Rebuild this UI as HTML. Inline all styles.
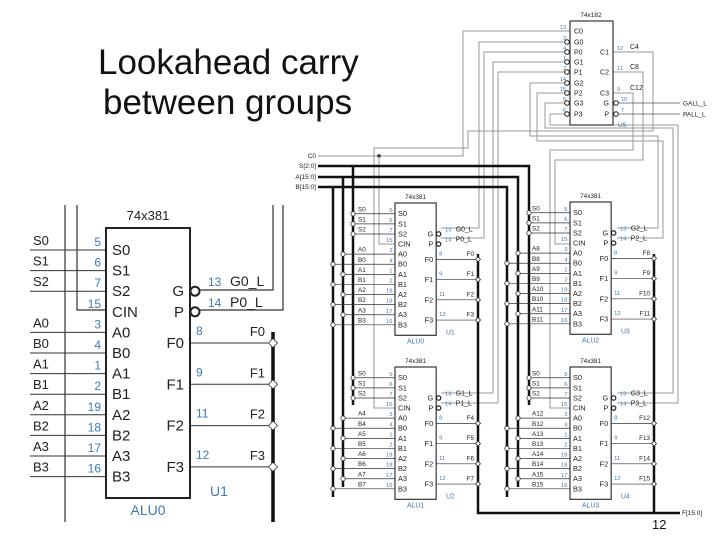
<!DOCTYPE html>
<html><head><meta charset="utf-8"><style>
html,body{margin:0;padding:0;background:#fff}
svg{display:block;font-family:"Liberation Sans",sans-serif}
</style></head><body>
<svg id="s" width="720" height="540" viewBox="0 0 720 540" xmlns="http://www.w3.org/2000/svg">
<text x="98" y="74" font-size="35" fill="#111">Lookahead carry</text>
<text x="103" y="114" font-size="35" fill="#111">between groups</text>
<text x="652" y="529" font-size="13" fill="#111">12</text>
</svg>
<script>
const S=document.getElementById('s');const NS='http://www.w3.org/2000/svg';
function el(t,a,txt){const e=document.createElementNS(NS,t);for(const k in a)e.setAttribute(k,a[k]);if(txt!==undefined)e.textContent=txt;S.appendChild(e);return e;}
function line(x1,y1,x2,y2,c,w){el('line',{x1,y1,x2,y2,stroke:c||'#333','stroke-width':w||1});}
function path(d,c,w){el('path',{d,fill:'none',stroke:c||'#999','stroke-width':w||1});}
function txt(x,y,t,fs,c,anc){el('text',{x,y,'font-size':fs,fill:c||'#222','text-anchor':anc||'start'},t);}
function dot(x,y,r){el('circle',{cx:x,cy:y,r:r,fill:'#fff',stroke:'#333','stroke-width':0.8});}
function dia(x,y,r){el('path',{d:`M${x-r},${y} L${x},${y-r} L${x+r},${y} L${x},${y+r}Z`,fill:'#fff',stroke:'#333','stroke-width':0.8});}
const BLUE='#3c7bb5';
const pinsL=['S0','S1','S2','CIN','A0','B0','A1','B1','A2','B2','A3','B3'];
const nums=['5','6','7','15','3','4','1','2','19','18','17','16'];
function alu(x0,y0,s,o){
 const w=84*s,h=270*s;
 txt(x0+w/2,y0-8*s,'74x381',13*s,'#222','middle');
 for(let i=0;i<12;i++){
  const y=y0+(22+20.6*i)*s;
  txt(x0+6*s,y+5*s,pinsL[i],15*s);
  txt(x0-5*s,y-4*s,nums[i],12*s,BLUE,'end');
  if(i<3||i>=4){
   const bx=i<3?o.sx:(i%2==0?o.ax:o.bx);
   line(bx,y,x0,y,'#333',s>0.7?1:0.7);
   txt(o.lx,y-5*s,o.ext[i],13*s);
   if(o.dots)dot(bx,y,2.2);
  }
 }
 el('rect',{x:x0,y:y0,width:w,height:h,fill:'none',stroke:'#222','stroke-width':s>0.7?2:1.1});
 const gp=[['G','13',o.g],['P','14',o.p]];
 gp.forEach((q,k)=>{const y=y0+(22+20.6*(2+k))*s;
  txt(x0+w-6*s,y+5*s,q[0],15*s,'#222','end');
  el('circle',{cx:x0+w+5*s,cy:y,r:4.5*s,fill:'#fff',stroke:'#222','stroke-width':s>0.7?2:1.2});
  txt(x0+w+18*s,y-5*s,q[1],12*s,BLUE);txt(x0+w+40*s,y-5*s,q[2],14*s);
 });
 const fn=['8','9','11','12'];
 for(let k=0;k<4;k++){const y=y0+(115+41.3*k)*s;
  txt(x0+w-6*s,y+5*s,'F'+k,15*s,'#222','end');
  line(x0+w,y,o.fx,y,'#333',s>0.7?1:0.7);
  txt(x0+w+6*s,y-8*s,fn[k],12*s,BLUE);
  txt(o.fx-8*s,y-7*s,o.f[k],13*s,'#222','end');
 }
 txt(x0+w+20*s,y0+h-2*s,o.u,14*s,BLUE);
 txt(x0+w/2,y0+h+17*s,o.name,14*s,BLUE,'middle');
}
line(65,205,65,522,'#333',1.2);
path('M77,205 V310 H106','#333',1.2);
path('M195,290 H273 V205','#333',1.2);
path('M195,310 H283 V205','#333',1.2);
line(273,332,273,522,'#111',3.5);
alu(106,228,1,{sx:30,ax:30,bx:30,lx:33,ext:['S0','S1','S2','','A0','B0','A1','B1','A2','B2','A3','B3'],
 g:'G0_L',p:'P0_L',fx:273,f:['F0','F1','F2','F3'],u:'U1',name:'ALU0'});
for(let k=0;k<4;k++)dia(273,343+41.3*k,4.5);
const s=0.49;
txt(316,158,'C0',6.5,'#222','end');txt(316,168,'S[2:0]',6.5,'#222','end');
txt(316,179,'A[15:0]',6.5,'#222','end');txt(316,189,'B[15:0]',6.5,'#222','end');
path('M318,156 H463 V31 H570');
el('circle',{cx:379,cy:156,r:1.8,fill:'#222'});
path('M379,156 V244 H395');
path('M613,52 H653 V131 H468 V148 H374 V408 H395');
path('M613,72 H643 V160 H555 V244 H570');
path('M613,93 H633 V150 H550 V408 H570');
path('M567,42 H479 V228 H441');
path('M567,52 H484 V238 H441');
path('M567,62 H493 V393 H441');
path('M567,72 H498 V403 H441');
path('M567,83 H530 V136 H658 V228 H617');
path('M567,93 H537 V141 H663 V238 H617');
path('M567,103 H545 V128 H673 V393 H617');
path('M567,114 H550 V125 H678 V403 H617');
path('M318,166 H529 V405','#111',2.5);path('M353,166 V405','#111',2.5);
path('M318,177 H518 V487','#111',2.5);path('M343,177 V487','#111',2.5);
path('M318,187 H507 V497','#111',2.5);path('M333,187 V497','#111',2.5);
path('M478,254 V513 H680','#111',2.5);path('M654,254 V513','#111',2.5);
txt(682,515,'F[15:0]',6.5);
const ex=(n)=>['S0','S1','S2','','A'+n,'B'+n,'A'+(n+1),'B'+(n+1),'A'+(n+2),'B'+(n+2),'A'+(n+3),'B'+(n+3)];
const fs=(n)=>[0,1,2,3].map(i=>'F'+(n+i));
const cfg=[[395,203,0,'G0_L','P0_L','U1','ALU0',353,343,333,478,358],
 [395,367,4,'G1_L','P1_L','U2','ALU1',353,343,333,478,358],
 [570,202,8,'G2_L','P2_L','U3','ALU2',529,518,507,654,532],
 [570,367,12,'G3_L','P3_L','U4','ALU3',529,518,507,654,532]];
cfg.forEach(c=>{
 alu(c[0],c[1],s,{sx:c[7],ax:c[8],bx:c[9],lx:c[11],ext:ex(c[2]),g:c[3],p:c[4],fx:c[10],f:fs(c[2]),u:c[5],name:c[6],dots:true});
 for(let k=0;k<4;k++)dia(c[10],c[1]+(115+41.3*k)*s,2.5);
});
el('rect',{x:570,y:21,width:43,height:104,fill:'none',stroke:'#222','stroke-width':1.1});
txt(591,17,'74x182',6.5,'#222','middle');
const l182=[['C0','13',31],['G0','3',42],['P0','4',52],['G1','1',62],['P1','2',72],['G2','14',83],['P2','15',93],['G3','5',103],['P3','6',114]];
l182.forEach((q,i)=>{txt(574,q[2]+2.5,q[0],7);txt(566,q[2]-2,q[1],5.5,BLUE,'end');
 if(i>0)el('circle',{cx:567,cy:q[2],r:2.3,fill:'#fff',stroke:'#222','stroke-width':1});});
[['C1','12',52,'C4'],['C2','11',72,'C8'],['C3','9',93,'C12']].forEach(q=>{
 txt(609,q[2]+2.5,q[0],7,'#222','end');txt(617,q[2]-2,q[1],5.5,BLUE);txt(630,q[2]-3,q[3],7);});
[['G','10',103,'GALL_L'],['P','7',114,'PALL_L']].forEach(q=>{
 txt(609,q[2]+2.5,q[0],7,'#222','end');el('circle',{cx:616,cy:q[2],r:2.3,fill:'#fff',stroke:'#222','stroke-width':1});
 txt(621,q[2]-2,q[1],5.5,BLUE);line(618,q[2],680,q[2],'#555',0.8);txt(683,q[2]+2.5,q[3],6.5);});
txt(618,127,'U5',6.5,BLUE);
</script>
</body></html>
